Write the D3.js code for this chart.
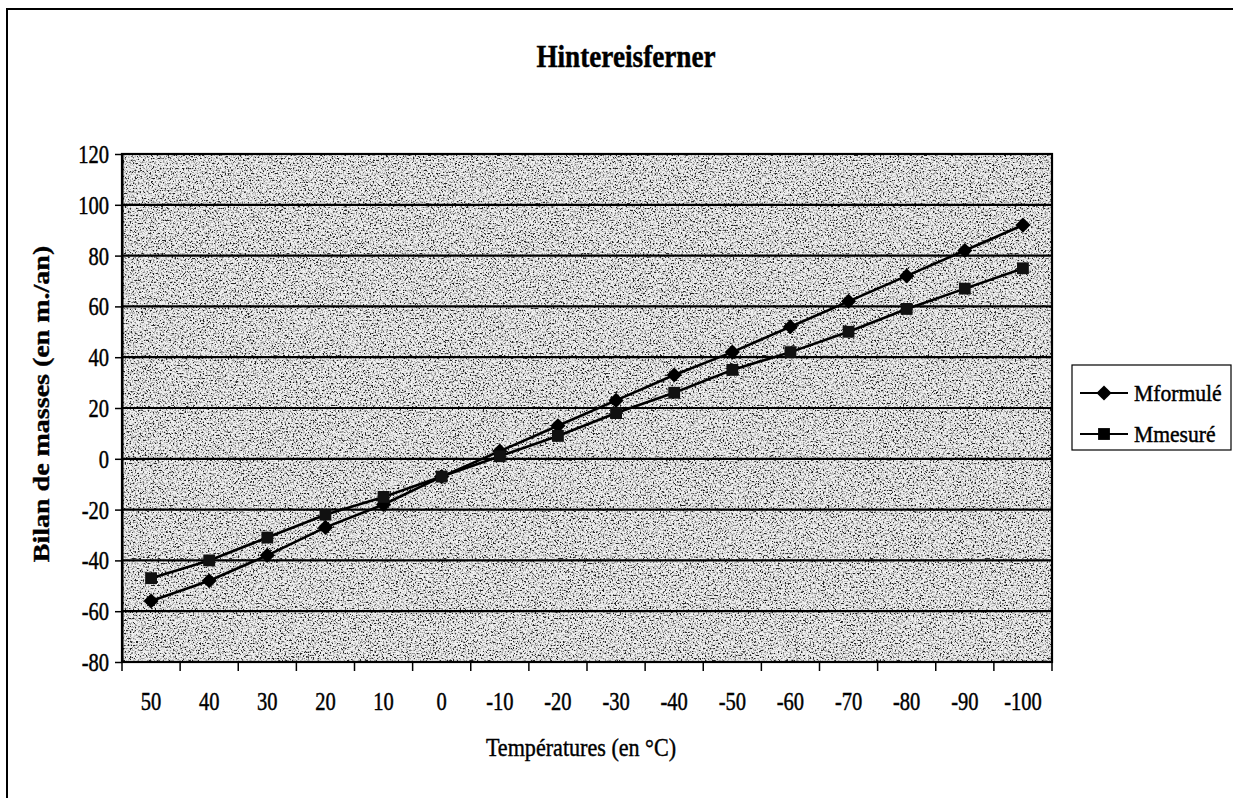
<!DOCTYPE html>
<html>
<head>
<meta charset="utf-8">
<script src="https://cdn.jsdelivr.net/npm/d3@7"></script>
<style>
  html, body { margin: 0; padding: 0; background: #fff; }
  svg { display: block; }
  text { font-family: "Liberation Serif", "Times New Roman", serif; fill: #000; stroke: #000; stroke-width: 0.45px; }
</style>
</head>
<body>
<svg id="chart" width="1233" height="798"></svg>
<script>
// Temperature categories (°C), in plotting order
const categories = ["50", "40", "30", "20", "10", "0", "-10", "-20", "-30", "-40", "-50", "-60", "-70", "-80", "-90", "-100"];
// Mass balance from the formula (m./an)
const mFormule = [-56, -48, -38, -27, -18, -7, 3, 13, 23, 33, 42, 52, 62, 72, 82, 92];
// Measured mass balance (m./an)
const mMesure = [-47, -40, -31, -22, -15, -7, 1, 9, 18, 26, 35, 42, 50, 59, 67, 75];
// Value axis ticks
const yTicks = [-80, -60, -40, -20, 0, 20, 40, 60, 80, 100, 120];
const seriesNames = ["Mformulé", "Mmesuré"];

const svg = d3.select("#chart");
const plot = { left: 122, right: 1052, top: 154, bottom: 662 };

// Narrow the rendered glyphs horizontally
function squeeze(sel, k) {
  sel.each(function () {
    const w = this.getComputedTextLength();
    d3.select(this).attr("textLength", w * k).attr("lengthAdjust", "spacingAndGlyphs");
  });
}

// Outer frame
svg.append("rect")
  .attr("x", 7).attr("y", 9).attr("width", 1240).attr("height", 800)
  .attr("fill", "none").attr("stroke", "#000").attr("stroke-width", 2);

// Stippled grey texture for the plot area
const defs = svg.append("defs");
const f = defs.append("filter").attr("id", "grain")
  .attr("x", 0).attr("y", 0).attr("width", "100%").attr("height", "100%");
f.append("feTurbulence").attr("type", "fractalNoise").attr("baseFrequency", 0.6)
  .attr("numOctaves", 3).attr("seed", 7).attr("result", "n");
f.append("feColorMatrix").attr("type", "matrix")
  .attr("values", "4.2 0 0 0 -1.3  4.2 0 0 0 -1.3  4.2 0 0 0 -1.3  0 0 0 0 1");

const x = d3.scaleBand().domain(categories).range([plot.left, plot.right]).padding(0);
const y = d3.scaleLinear().domain([-80, 120]).range([plot.bottom, plot.top]);
const cx = c => x(c) + x.bandwidth() / 2;

svg.append("rect")
  .attr("x", plot.left).attr("y", plot.top)
  .attr("width", plot.right - plot.left).attr("height", plot.bottom - plot.top)
  .attr("fill", "#b4b4b4");
svg.append("rect")
  .attr("x", plot.left).attr("y", plot.top)
  .attr("width", plot.right - plot.left).attr("height", plot.bottom - plot.top)
  .attr("filter", "url(#grain)").attr("opacity", 0.8);

// Horizontal gridlines
svg.append("g").selectAll("line").data(yTicks).join("line")
  .attr("x1", plot.left).attr("x2", plot.right)
  .attr("y1", d => y(d)).attr("y2", d => y(d))
  .attr("stroke", "#000").attr("stroke-width", 2.2);

// Plot border
svg.append("rect")
  .attr("x", plot.left).attr("y", plot.top)
  .attr("width", plot.right - plot.left).attr("height", plot.bottom - plot.top)
  .attr("fill", "none").attr("stroke", "#000").attr("stroke-width", 2.2);

// Y axis
const yAxis = svg.append("g")
  .attr("transform", `translate(${plot.left},0)`)
  .call(d3.axisLeft(y).tickValues(yTicks).tickFormat(d => String(d))
    .tickSize(7).tickSizeOuter(0).tickPadding(6));
yAxis.select(".domain").attr("stroke", "#000").attr("stroke-width", 2);
yAxis.selectAll(".tick line").attr("stroke", "#000").attr("stroke-width", 1.5);
yAxis.selectAll(".tick text")
  .style("font-family", "Liberation Serif, serif").style("font-size", "25px")
  .attr("dy", "0.34em");
squeeze(yAxis.selectAll(".tick text"), 0.82);

// X axis: ticks on category boundaries, labels at band centres
const bounds = categories.map(c => x(c)).concat([plot.right]);
svg.append("g").selectAll("line").data(bounds).join("line")
  .attr("x1", d => d).attr("x2", d => d)
  .attr("y1", plot.bottom).attr("y2", plot.bottom + 9)
  .attr("stroke", "#000").attr("stroke-width", 1.5);
const xLabels = svg.append("g").selectAll("text").data(categories).join("text")
  .attr("x", d => cx(d)).attr("y", 710)
  .attr("text-anchor", "middle").style("font-size", "25px")
  .text(d => d);
squeeze(xLabels, 0.82);

// Series lines and markers
const line = d3.line().x((d, i) => cx(categories[i])).y(d => y(d));
const square = d3.symbol().type(d3.symbolSquare).size(140);
const diamond = d3.symbol().type(d3.symbolSquare).size(115);

svg.append("path").datum(mFormule).attr("d", line)
  .attr("fill", "none").attr("stroke", "#000").attr("stroke-width", 2.6);
svg.append("path").datum(mMesure).attr("d", line)
  .attr("fill", "none").attr("stroke", "#000").attr("stroke-width", 2.6);

svg.append("g").selectAll("path").data(mFormule).join("path")
  .attr("d", diamond)
  .attr("transform", (d, i) => `translate(${cx(categories[i])},${y(d)}) rotate(45)`)
  .attr("fill", "#000");
svg.append("g").selectAll("path").data(mMesure).join("path")
  .attr("d", square)
  .attr("transform", (d, i) => `translate(${cx(categories[i])},${y(d)})`)
  .attr("fill", "#111");

// Title
const title = svg.append("text")
  .attr("x", 626).attr("y", 67).attr("text-anchor", "middle")
  .style("font-size", "32px").style("font-weight", "bold")
  .text("Hintereisferner");
squeeze(title, 0.85);

// Axis titles
svg.append("text")
  .attr("transform", "translate(49,404) scale(0.85,1) rotate(-90)")
  .attr("text-anchor", "middle")
  .style("font-size", "28px").style("font-weight", "bold")
  .text("Bilan de masses (en m./an)");

const xTitle = svg.append("text")
  .attr("x", 581).attr("y", 756).attr("text-anchor", "middle")
  .style("font-size", "26px")
  .text("Températures (en °C)");
squeeze(xTitle, 0.85);

// Legend
const legend = svg.append("g");
legend.append("rect")
  .attr("x", 1072).attr("y", 365).attr("width", 159).attr("height", 85)
  .attr("fill", "#fff").attr("stroke", "#000").attr("stroke-width", 1.2);
const legendRows = [
  { name: seriesNames[0], sym: diamond, rot: 45, y: 393 },
  { name: seriesNames[1], sym: square, rot: 0, y: 434 }
];
legendRows.forEach(r => {
  legend.append("line")
    .attr("x1", 1080).attr("x2", 1128).attr("y1", r.y).attr("y2", r.y)
    .attr("stroke", "#000").attr("stroke-width", 2);
  legend.append("path").attr("d", r.sym)
    .attr("transform", `translate(1104,${r.y}) rotate(${r.rot})`).attr("fill", "#000");
  const t = legend.append("text")
    .attr("x", 1134).attr("y", r.y + 8)
    .style("font-size", "24px").text(r.name);
  squeeze(t, 0.9);
});
</script>
</body>
</html>
